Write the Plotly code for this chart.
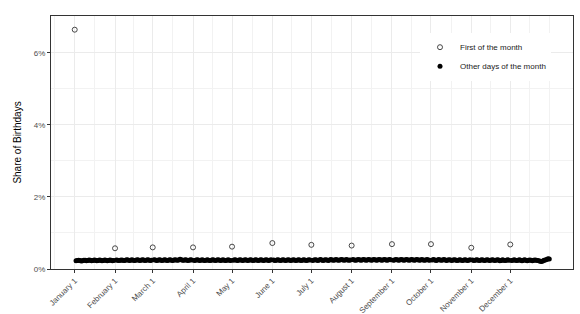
import plotly.graph_objects as go

month_names = ["January", "February", "March", "April", "May", "June", "July",
               "August", "September", "October", "November", "December"]
month_lengths = [31, 29, 31, 30, 31, 30, 31, 31, 30, 31, 30, 31]
tick_labels = [m + " 1" for m in month_names]

# share (%) on the first of each month
first_share = [6.64, 0.575, 0.60, 0.60, 0.62, 0.72, 0.67, 0.65, 0.69, 0.69, 0.59, 0.68]

# share (%) on the other days of each month (day 2 .. end)
jan = [0.228,0.236,0.245,0.238,0.224,0.232,0.246,0.241,0.229,0.236,0.248,0.240,0.227,0.235,0.247,
       0.243,0.230,0.236,0.249,0.242,0.229,0.237,0.250,0.244,0.231,0.238,0.251,0.243,0.232,0.239]
feb = [0.252,0.245,0.233,0.240,0.253,0.246,0.234,0.241,0.254,0.247,0.235,0.242,0.255,0.246,
       0.234,0.241,0.254,0.247,0.235,0.243,0.256,0.248,0.236,0.242,0.255,0.247,0.235,0.244]
mar = [0.256,0.248,0.236,0.243,0.257,0.249,0.237,0.244,0.256,0.248,0.236,0.244,0.258,0.250,0.238,
       0.245,0.257,0.249,0.240,0.252,0.268,0.256,0.240,0.246,0.257,0.248,0.236,0.244,0.256,0.247]
apr = [0.235,0.243,0.255,0.247,0.234,0.242,0.255,0.246,0.233,0.241,0.254,0.246,0.234,0.242,0.255,
       0.247,0.235,0.243,0.256,0.247,0.234,0.242,0.255,0.246,0.233,0.241,0.254,0.246,0.234]
may = [0.242,0.255,0.247,0.234,0.242,0.256,0.248,0.235,0.243,0.256,0.247,0.234,0.242,0.255,0.247,
       0.235,0.243,0.257,0.248,0.235,0.243,0.256,0.247,0.234,0.243,0.257,0.249,0.236,0.244,0.257]
jun = [0.249,0.236,0.244,0.258,0.250,0.237,0.245,0.258,0.249,0.236,0.245,0.259,0.250,0.237,0.245,
       0.258,0.250,0.238,0.246,0.259,0.250,0.237,0.246,0.260,0.251,0.238,0.246,0.259,0.250]
jul = [0.238,0.247,0.260,0.251,0.238,0.247,0.261,0.252,0.239,0.247,0.260,0.251,0.239,0.248,0.262,
       0.253,0.240,0.248,0.261,0.252,0.240,0.249,0.263,0.254,0.241,0.249,0.262,0.253,0.240,0.249]
aug = [0.262,0.253,0.241,0.250,0.264,0.255,0.242,0.250,0.263,0.254,0.241,0.250,0.264,0.255,0.242,
       0.251,0.265,0.256,0.243,0.251,0.264,0.255,0.242,0.251,0.265,0.256,0.243,0.250,0.263,0.254]
sep = [0.242,0.251,0.265,0.256,0.243,0.251,0.264,0.255,0.242,0.250,0.264,0.255,0.242,0.250,0.263,
       0.254,0.241,0.250,0.263,0.254,0.241,0.249,0.262,0.253,0.240,0.249,0.262,0.253,0.240]
oct_ = [0.248,0.261,0.252,0.239,0.248,0.262,0.253,0.240,0.248,0.261,0.252,0.239,0.247,0.260,0.251,
        0.238,0.247,0.260,0.251,0.238,0.246,0.259,0.250,0.237,0.246,0.259,0.250,0.237,0.245,0.258]
nov = [0.249,0.236,0.245,0.258,0.249,0.236,0.244,0.257,0.248,0.235,0.244,0.257,0.248,0.235,0.243,
       0.256,0.247,0.234,0.243,0.256,0.247,0.230,0.238,0.254,0.246,0.234,0.242,0.255,0.246]
dec = [0.233,0.242,0.255,0.246,0.233,0.241,0.254,0.245,0.232,0.241,0.254,0.245,0.232,0.240,0.253,
       0.244,0.231,0.240,0.252,0.243,0.236,0.226,0.214,0.208,0.222,0.240,0.250,0.262,0.284,0.280]
other_by_month = [jan, feb, mar, apr, may, jun, jul, aug, sep, oct_, nov, dec]

# day-of-year positions
month_start = []
s = 1
for L in month_lengths:
    month_start.append(s)
    s += L
n_days = s - 1

other_x, other_y = [], []
for start, vals in zip(month_start, other_by_month):
    for i, v in enumerate(vals):
        other_x.append(start + 1 + i)
        other_y.append(v)

font = "Liberation Sans, Arial, sans-serif"

fig = go.Figure()
fig.add_trace(go.Scatter(
    x=month_start, y=first_share, mode="markers", name="First of the month",
    marker=dict(symbol="circle-open", size=5, color="#333333", line=dict(width=0.9)),
))
fig.add_trace(go.Scatter(
    x=other_x, y=other_y, mode="markers", name="Other days of the month",
    marker=dict(symbol="circle", size=5, color="black"),
))

exp_x = (n_days - 1) * 0.05
# minor breaks (midpoints, ggplot style)
ext = [month_start[0] - (month_start[1] - month_start[0])] + month_start + \
      [month_start[-1] + (month_start[-1] - month_start[-2])]
minor_x = [(a + b) / 2 for a, b in zip(ext[:-1], ext[1:])] + [ext[-1]]

fig.update_layout(
    width=580, height=314,
    margin=dict(l=51, r=7, t=16, b=45),
    paper_bgcolor="white", plot_bgcolor="white",
    font=dict(family=font, color="#4d4d4d", size=8),
    showlegend=True,
    legend=dict(x=0.7069, y=0.934, xanchor="left", yanchor="top",
                bgcolor="white", font=dict(size=8, color="#1a1a1a"),
                itemsizing="trace", itemwidth=30),
    xaxis=dict(
        range=[1 - exp_x, n_days + exp_x], automargin=False,
        tickvals=month_start, ticktext=tick_labels, tickangle=-45,
        ticks="outside", ticklen=3, tickcolor="#333333", tickwidth=1,
        showgrid=True, gridcolor="#ebebeb", gridwidth=1,
        minor=dict(tickvals=minor_x, showgrid=True, gridcolor="#f2f2f2", gridwidth=0.6, ticklen=0),
        showline=True, mirror=True, linecolor="#333333", linewidth=1,
        zeroline=False, tickfont=dict(size=8, color="#4d4d4d"),
    ),
    yaxis=dict(
        range=[0, 7.02], automargin=False,
        tickvals=[0, 2, 4, 6], ticktext=["0%", "2%", "4%", "6%"],
        ticks="outside", ticklen=3, tickcolor="#333333", tickwidth=1,
        showgrid=True, gridcolor="#ebebeb", gridwidth=1,
        minor=dict(tickvals=[1, 3, 5, 7], showgrid=True, gridcolor="#f2f2f2", gridwidth=0.6, ticklen=0),
        showline=True, mirror=True, linecolor="#333333", linewidth=1,
        zeroline=False, tickfont=dict(size=8, color="#4d4d4d"),
        title=dict(text="Share of Birthdays", font=dict(size=10, color="black"), standoff=10),
    ),
)

fig.write_html("out.html")
